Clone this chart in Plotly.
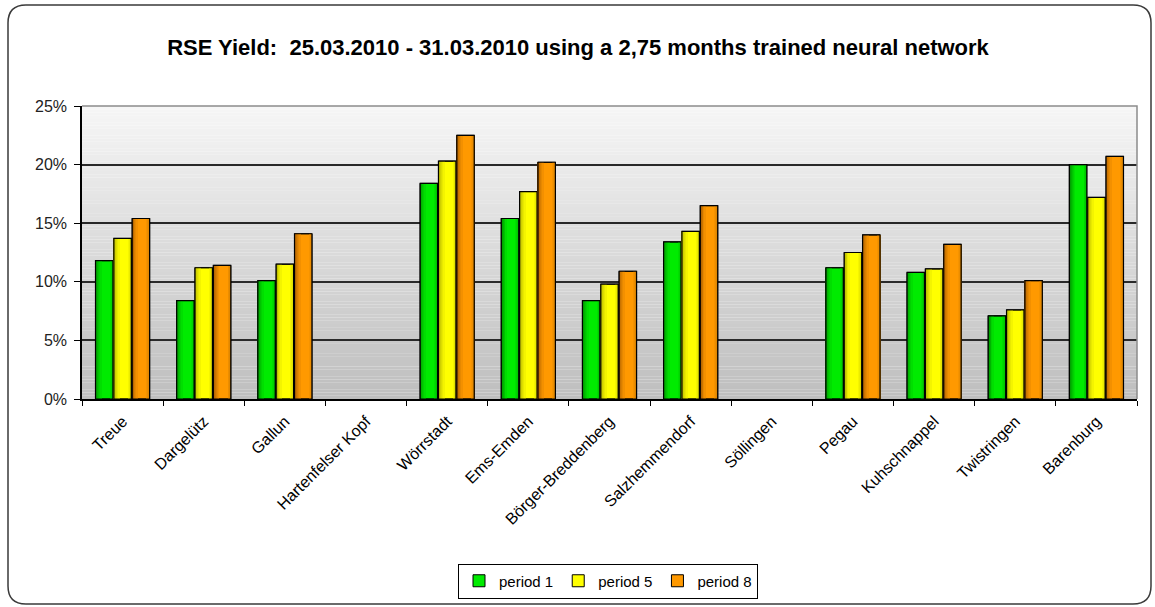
import plotly.graph_objects as go

# Wind farm sites and RSE yield per forecast period (fractions)
sites = ["Treue", "Dargelütz", "Gallun", "Hartenfelser Kopf", "Wörrstadt", "Ems-Emden",
         "Börger-Breddenberg", "Salzhemmendorf", "Söllingen", "Pegau", "Kuhschnappel",
         "Twistringen", "Barenburg"]
period_1 = [0.118, 0.084, 0.101, None, 0.184, 0.154, 0.084, 0.134, None, 0.112, 0.108, 0.071, 0.200]
period_5 = [0.137, 0.112, 0.115, None, 0.203, 0.177, 0.098, 0.143, None, 0.125, 0.111, 0.076, 0.172]
period_8 = [0.154, 0.114, 0.141, None, 0.225, 0.202, 0.109, 0.165, None, 0.140, 0.132, 0.101, 0.207]
series_names = ["period 1", "period 5", "period 8"]
y_ticks = [0, 0.05, 0.10, 0.15, 0.20, 0.25]

# (dark left edge, bright body, slightly darker right edge)
palettes = [((0, 140, 0), (0, 235, 0), (0, 200, 0)),
            ((175, 175, 0), (255, 255, 0), (225, 225, 0)),
            ((165, 90, 0), (255, 153, 0), (225, 135, 0))]
FONT = "Liberation Sans, Arial, sans-serif"

W, H = 1155, 607
L, R, T, B = 82, 18, 106, 208
pw, ph = W - L - R, H - T - B

BAR_W = 0.215      # bar width in category units
BAR_STEP = 0.226   # distance between neighbouring bars in a group


def px_to_paper(x, y):
    return (x - L) / pw, (H - B - y) / ph


def rgb(c):
    return "rgb(%d,%d,%d)" % tuple(round(v) for v in c)


def mix(a, b, t):
    return tuple(a[k] + (b[k] - a[k]) * t for k in range(3))


fig = go.Figure()
for idx, (name, vals, pal) in enumerate(zip(series_names, [period_1, period_5, period_8], palettes)):
    dark, body, right = pal
    off = -1.5 * BAR_STEP + (BAR_STEP - BAR_W) / 2 + idx * BAR_STEP
    # solid body (also provides the legend swatch)
    fig.add_trace(go.Bar(x=sites, y=vals, name=name, legendgroup=name,
                         width=BAR_W, offset=off,
                         marker=dict(color=rgb(body), line=dict(color="#000000", width=1))))
    # horizontal shading: darker strips fading into the body colour
    n_left = 6
    left_span = 0.32
    for j in range(n_left):
        t = j / n_left
        fig.add_trace(go.Bar(x=sites, y=vals, legendgroup=name, showlegend=False,
                             hoverinfo="skip", width=BAR_W * left_span / n_left * 1.05,
                             offset=off + BAR_W * left_span * t,
                             marker=dict(color=rgb(mix(dark, body, t ** 0.8)), line=dict(width=0))))
    n_right = 3
    right_span = 0.16
    for j in range(n_right):
        t = (j + 1) / n_right
        fig.add_trace(go.Bar(x=sites, y=vals, legendgroup=name, showlegend=False,
                             hoverinfo="skip", width=BAR_W * right_span / n_right * 1.05,
                             offset=off + BAR_W * (1 - right_span) + BAR_W * right_span * j / n_right,
                             marker=dict(color=rgb(mix(body, right, t)), line=dict(width=0))))
    # black outline on top of the shading
    fig.add_trace(go.Bar(x=sites, y=vals, legendgroup=name, showlegend=False,
                         hoverinfo="skip", width=BAR_W, offset=off,
                         marker=dict(color="rgba(0,0,0,0)", line=dict(color="#000000", width=1.2))))

shapes = []
# vertical grey gradient behind the plot area
n_bands = 90
top_rgb, bot_rgb = (246, 246, 246), (190, 190, 190)
for i in range(n_bands):
    f = (i + 0.5) / n_bands
    shapes.append(dict(type="rect", xref="paper", yref="paper", layer="below",
                       x0=0, x1=1, y0=i / n_bands, y1=(i + 1.02) / n_bands,
                       fillcolor=rgb(mix(bot_rgb, top_rgb, f)), line=dict(width=0)))
# grey frame on the top and right edges of the plot area
shapes.append(dict(type="path", xref="paper", yref="paper", layer="above",
                   path="M 0 1 L 1 1 L 1 0", line=dict(color="#8c8c8c", width=1.5)))

# rounded outer chart border
x0, y0 = px_to_paper(8, 5)
x1, y1 = px_to_paper(1151, 604)
rx, ry = 18 / pw, 18 / ph
path = (f"M {x0 + rx} {y0} L {x1 - rx} {y0} Q {x1} {y0} {x1} {y0 - ry} "
        f"L {x1} {y1 + ry} Q {x1} {y1} {x1 - rx} {y1} "
        f"L {x0 + rx} {y1} Q {x0} {y1} {x0} {y1 + ry} "
        f"L {x0} {y0 - ry} Q {x0} {y0} {x0 + rx} {y0} Z")
shapes.append(dict(type="path", xref="paper", yref="paper", path=path,
                   line=dict(color="#3a3a3a", width=1.5), layer="above"))

fig.update_layout(
    width=W, height=H,
    margin=dict(l=L, r=R, t=T, b=B, autoexpand=False),
    paper_bgcolor="#ffffff", plot_bgcolor="rgba(0,0,0,0)",
    font=dict(family=FONT, color="#000000", size=15),
    title=dict(text="RSE Yield:  25.03.2010 - 31.03.2010 using a 2,75 months trained neural network",
               x=578 / W, xanchor="center", xref="container", y=1 - 47 / H, yanchor="middle",
               font=dict(family=FONT, size=22, color="#000000", weight="bold")),
    barmode="overlay",
    showlegend=True,
    legend=dict(orientation="h", x=px_to_paper(608, 0)[0], xanchor="center",
                y=px_to_paper(0, 581)[1], yanchor="middle",
                bordercolor="#000000", borderwidth=1, bgcolor="#ffffff",
                font=dict(family=FONT, size=15), itemwidth=30,
                traceorder="normal", tracegroupgap=0),
    shapes=shapes,
)
fig.update_xaxes(
    type="category", range=[-0.5, len(sites) - 0.5],
    tickangle=-45, ticks="outside", tickson="boundaries", ticklen=5,
    tickcolor="#000000", showline=True, linecolor="#000000", linewidth=1.5,
    showgrid=False, ticklabelstandoff=5,
    tickfont=dict(family=FONT, size=16, color="#000000"),
)
fig.update_yaxes(
    range=[0, 0.25], tickvals=y_ticks, tickformat=".0%",
    ticks="outside", ticklen=6, tickcolor="#000000", ticklabelstandoff=4,
    showline=True, linecolor="#000000", linewidth=1.5,
    showgrid=True, gridcolor="#2a2a2a", gridwidth=1.5, zeroline=False,
    tickfont=dict(family=FONT, size=16, color="#222222"),
)

fig.write_html("out.html")
